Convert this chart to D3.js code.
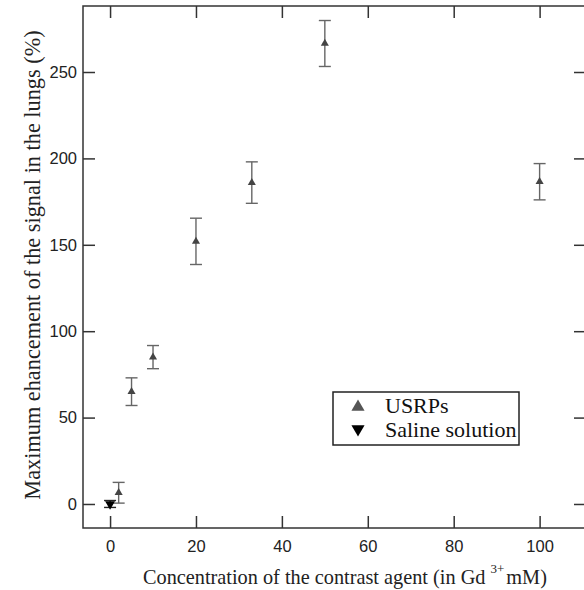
<!DOCTYPE html>
<html><head><meta charset="utf-8">
<script src="https://cdn.jsdelivr.net/npm/d3@7"></script>
<style>body{margin:0;background:#fff}svg{display:block}</style>
</head><body>
<script>
const usrpX = [2, 5, 10, 20, 33, 50, 100];
const usrpY = [6.5, 65, 85, 152, 186, 266.5, 186.5];
const usrpErr = [6, 8, 6.7, 13.4, 12, 13.3, 10.5];
const salineX = [0];
const salineY = [0];
const salineErr = [2];
const xTicks = [0, 20, 40, 60, 80, 100];
const yTicks = [0, 50, 100, 150, 200, 250];
const legendLabels = ["USRPs", "Saline solution"];

const W = 584, H = 590;
const L = 83, R = 586, T = 6, B = 528;
const svg = d3.select("body").append("svg").attr("width", W).attr("height", H);
const x = d3.scaleLinear().domain([-6.3, 110.8]).range([L, R]);
const y = d3.scaleLinear().domain([-13.9, 288.2]).range([B, T]);

const axisCol = "#333";
const tickFont = "'Liberation Sans', Arial, sans-serif";
const serif = "'Liberation Serif', 'Times New Roman', serif";

function styleAxis(g, labels) {
  g.select(".domain").remove();
  g.selectAll(".tick line").attr("stroke", axisCol).attr("stroke-width", 1.5);
  g.selectAll(".tick text").attr("font-family", tickFont).attr("font-size", 16.5).attr("fill", "#222");
  if (!labels) g.selectAll(".tick text").remove();
}
// bottom
svg.append("g").attr("transform", `translate(0,${B})`)
  .call(d3.axisBottom(x).tickValues(xTicks).tickSize(-12).tickPadding(12).tickFormat(d3.format("d")))
  .call(g => styleAxis(g, true));
// top
svg.append("g").attr("transform", `translate(0,${T})`)
  .call(d3.axisTop(x).tickValues(xTicks).tickSize(-12))
  .call(g => styleAxis(g, false));
// left
svg.append("g").attr("transform", `translate(${L},0)`)
  .call(d3.axisLeft(y).tickValues(yTicks).tickSize(-12).tickPadding(6).tickFormat(d3.format("d")))
  .call(g => styleAxis(g, true));
// right
svg.append("g").attr("transform", `translate(${R},0)`)
  .call(d3.axisRight(y).tickValues(yTicks).tickSize(-12))
  .call(g => styleAxis(g, false));
// frame
svg.append("rect").attr("x", L).attr("y", T).attr("width", R - L).attr("height", B - T)
  .attr("fill", "none").attr("stroke", axisCol).attr("stroke-width", 1.5);

// error bars
function errBars(xs, ys, es, col) {
  const g = svg.append("g").attr("stroke", col).attr("stroke-width", 1.4).attr("fill", "none");
  xs.forEach((xv, i) => {
    const cx = x(xv), y1 = y(ys[i] + es[i]), y2 = y(ys[i] - es[i]);
    g.append("line").attr("x1", cx).attr("x2", cx).attr("y1", y1).attr("y2", y2);
    g.append("line").attr("x1", cx - 6).attr("x2", cx + 6).attr("y1", y1).attr("y2", y1);
    g.append("line").attr("x1", cx - 6).attr("x2", cx + 6).attr("y1", y2).attr("y2", y2);
  });
}
errBars(usrpX, usrpY, usrpErr, "#666");
errBars(salineX, salineY, salineErr, "#222");

const triUp = d3.symbol().type(d3.symbolTriangle).size(28);
const triDown = d3.symbol().type(d3.symbolTriangle).size(42);
svg.append("g").selectAll("path").data(usrpX).join("path")
  .attr("d", triUp).attr("fill", "#444")
  .attr("transform", (d, i) => `translate(${x(d)},${y(usrpY[i])})`);
svg.append("g").selectAll("path").data(salineX).join("path")
  .attr("d", triDown).attr("fill", "#000")
  .attr("transform", (d, i) => `translate(${x(d)},${y(salineY[i])}) rotate(180)`);

// axis titles
const xt = svg.append("text").attr("x", 143).attr("y", 584)
  .attr("font-family", serif).attr("font-size", 20.3).attr("fill", "#222");
xt.append("tspan").text("Concentration of the contrast agent (in Gd ");
xt.append("tspan").attr("dy", -11).attr("font-size", 13).text("3+");
xt.append("tspan").attr("dy", 11).attr("dx", 2).text("mM)");

svg.append("text").attr("transform", `translate(40,265) rotate(-90)`)
  .attr("text-anchor", "middle").attr("font-family", serif).attr("font-size", 22.3).attr("fill", "#222")
  .text("Maximum ehancement of the signal in the lungs (%)");

// legend
const lg = svg.append("g");
lg.append("rect").attr("x", 333).attr("y", 392).attr("width", 186).attr("height", 53)
  .attr("fill", "#fff").attr("stroke", "#222").attr("stroke-width", 1.5);
lg.append("path").attr("d", d3.symbol().type(d3.symbolTriangle).size(75)).attr("fill", "#555")
  .attr("transform", "translate(358,407)");
lg.append("path").attr("d", d3.symbol().type(d3.symbolTriangle).size(75)).attr("fill", "#000")
  .attr("transform", "translate(358,429) rotate(180)");
lg.selectAll("text").data(legendLabels).join("text")
  .attr("x", 385).attr("y", (d, i) => 413 + i * 23.5)
  .attr("font-family", serif).attr("font-size", 22).attr("fill", "#111").text(d => d);
</script>
</body></html>
